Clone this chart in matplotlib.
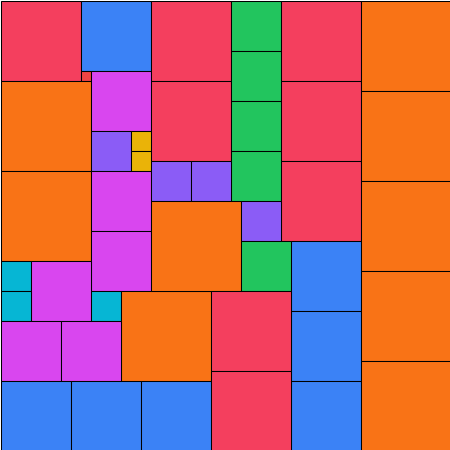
import matplotlib
matplotlib.use("Agg")
import matplotlib.pyplot as plt

# Square tiles: left, top, side (pixel units of a 450x450 canvas), color name
lefts = [0, 80, 80, 0, 90, 90, 130, 130, 0, 90, 90, 0, 30, 0, 90, 120, 0, 60,
         0, 70, 140, 150, 150, 230, 230, 230, 230, 280, 280, 280, 150, 190,
         150, 240, 240, 290, 290, 290, 210, 210, 360, 360, 360, 360, 360]
tops = [0, 0, 70, 80, 70, 130, 130, 150, 170, 170, 230, 260, 260, 290, 290, 290, 320, 320,
        380, 380, 380, 0, 80, 0, 50, 100, 150, 0, 80, 160, 160, 160,
        200, 200, 240, 240, 310, 380, 290, 370, 0, 90, 180, 270, 360]
sides = [80, 70, 10, 90, 60, 40, 20, 20, 90, 60, 60, 30, 60, 30, 30, 90, 60, 60,
         70, 70, 70, 80, 80, 50, 50, 50, 50, 80, 80, 80, 40, 40,
         90, 40, 50, 70, 70, 70, 80, 80, 90, 90, 90, 90, 90]
groups = ["red", "blue", "crimson", "orange", "magenta", "purple", "yellow", "yellow",
          "orange", "magenta", "magenta", "cyan", "magenta", "cyan", "cyan", "orange",
          "magenta", "magenta", "blue", "blue", "blue", "red", "red",
          "green", "green", "green", "green", "red", "red", "red", "purple", "purple",
          "orange", "purple", "green", "blue", "blue", "blue", "red", "red",
          "orange", "orange", "orange", "orange", "orange"]

palette = {
    "red": "#F43F5E", "blue": "#3B82F6", "crimson": "#EF4444", "orange": "#F97316",
    "magenta": "#D946EF", "purple": "#8B5CF6", "yellow": "#EAB308",
    "cyan": "#06B6D4", "green": "#22C55E",
}

fig = plt.figure(figsize=(4.5, 4.5), dpi=100)
ax = fig.add_axes([0, 0, 1, 1])
ax.bar(lefts, sides, width=sides, bottom=tops, align="edge",
       color=[palette[g] for g in groups], edgecolor="black", linewidth=0.75)
ax.set_xlim(-0.5, 449.5)
ax.set_ylim(449.5, -0.5)
ax.axis("off")
fig.savefig("out.png", dpi=100)
